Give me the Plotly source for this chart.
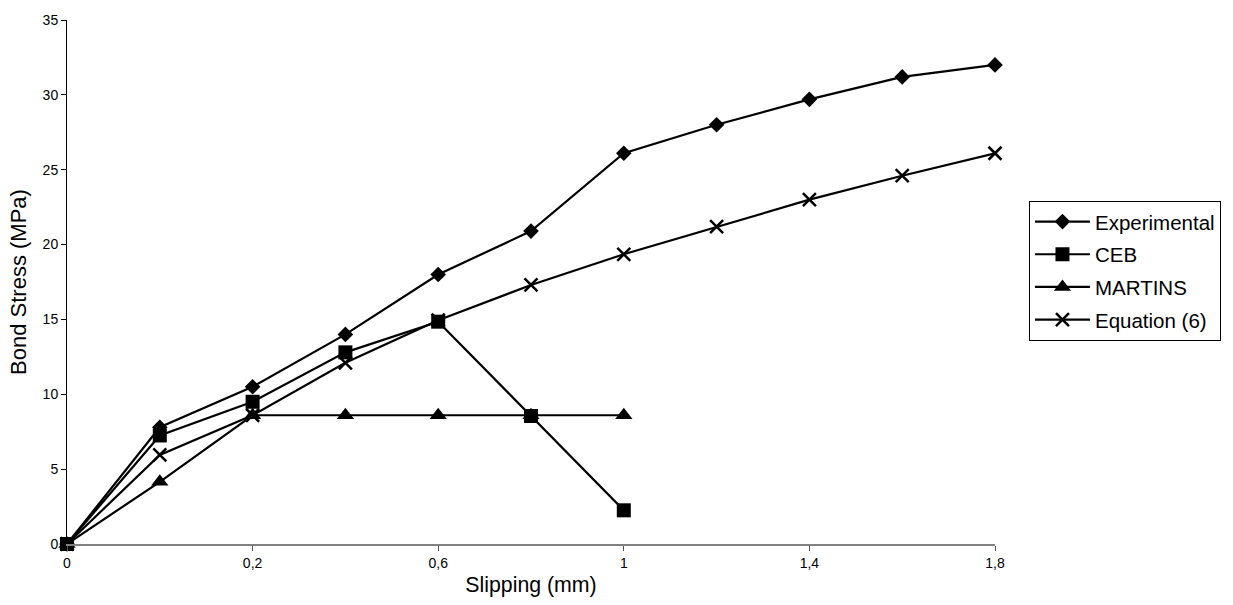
import plotly.graph_objects as go

categories = ["0", "0,1", "0,2", "0,4", "0,6", "0,8", "1", "1,2", "1,4", "1,6", "1,8"]
tick_labels = ["0", "0,2", "0,6", "1", "1,4", "1,8"]

experimental = [0, 7.8, 10.5, 14.0, 18.0, 20.9, 26.1, 28.0, 29.7, 31.2, 32.0]
ceb = [0, 7.25, 9.5, 12.8, 14.85, 8.55, 2.25]
martins = [0, 4.15, 8.6, 8.6, 8.6, 8.6, 8.6]
equation6 = [0, 5.95, 8.6, 12.1, 14.95, 17.3, 19.35, 21.2, 23.0, 24.6, 26.1]

FONT = "Arial, 'Liberation Sans', sans-serif"

fig = go.Figure()

series = [
    ("Experimental", experimental, dict(symbol="diamond", size=12)),
    ("CEB", ceb, dict(symbol="square", size=14)),
    ("MARTINS", martins, dict(symbol="triangle-up", size=15)),
    ("Equation (6)", equation6, dict(symbol="x-thin", size=13, line=dict(width=2.5, color="black"))),
]

for i, (name, vals, mk) in enumerate(series):
    fig.add_trace(go.Scatter(
        x=categories[:len(vals)], y=vals, name=name, mode="lines+markers",
        line=dict(color="black", width=2.2),
        marker=dict(color="black", **mk),
        cliponaxis=False,
        legendgroup=f"g{i}",
    ))

fig.update_layout(
    width=1233, height=605,
    margin=dict(l=67, r=238, t=15, b=60),
    paper_bgcolor="white", plot_bgcolor="white",
    font=dict(family=FONT, color="black"),
    showlegend=True,
    legend=dict(
        x=1.0366, y=0.655, xanchor="left", yanchor="top",
        bordercolor="black", borderwidth=1,
        font=dict(size=20.5, family=FONT),
        tracegroupgap=3, traceorder="grouped",
        itemwidth=55,
    ),
    xaxis=dict(
        type="category", categoryorder="array", categoryarray=categories,
        range=[0, 10],
        tickmode="array", tickvals=tick_labels, ticktext=tick_labels,
        ticks="outside", ticklen=5, tickcolor="#555555",
        showline=True, linecolor="#808080", linewidth=2,
        showgrid=False, zeroline=False,
        tickfont=dict(size=14),
        title=dict(text="Slipping (mm)", font=dict(size=21.3), standoff=7),
    ),
    yaxis=dict(
        range=[0, 35], tickmode="linear", tick0=0, dtick=5,
        ticks="outside", ticklen=5, tickcolor="black",
        showline=True, linecolor="black", linewidth=1,
        showgrid=False, zeroline=False,
        tickfont=dict(size=14),
        title=dict(text="Bond Stress (MPa)", font=dict(size=22), standoff=9),
    ),
)

fig.write_html("out.html")
